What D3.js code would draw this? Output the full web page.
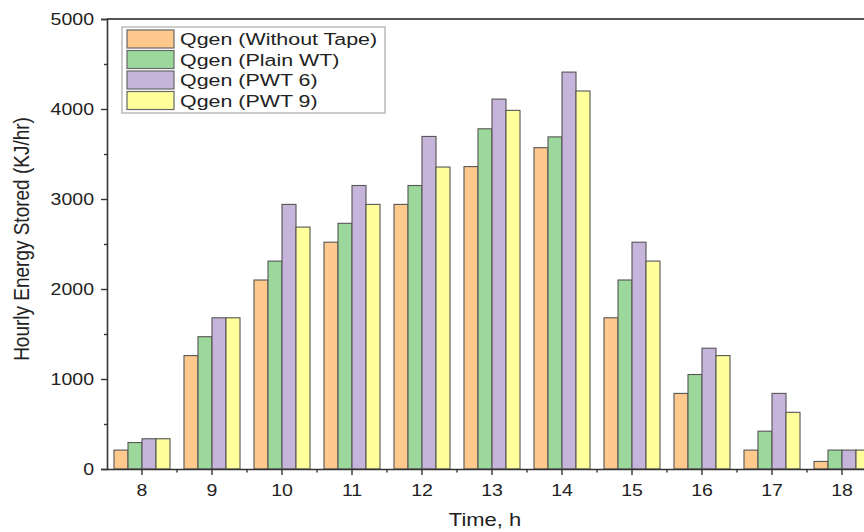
<!DOCTYPE html>
<html>
<head>
<meta charset="utf-8">
<script src="https://cdn.jsdelivr.net/npm/d3@7/dist/d3.min.js"></script>
<style>
  html, body { margin: 0; padding: 0; background: #fff; }
  svg { display: block; }
  text { font-family: "Liberation Sans", Arial, sans-serif; fill: #222; }
</style>
</head>
<body>
<svg id="chart" width="864" height="532"></svg>
<script>
const categories = ["8", "9", "10", "11", "12", "13", "14", "15", "16", "17", "18"];
const seriesNames = ["Qgen (Without Tape)", "Qgen (Plain WT)", "Qgen (PWT 6)", "Qgen (PWT 9)"];
const withoutTape = [210, 1260, 2100, 2520, 2940, 3360, 3570, 1680, 840, 210, 84];
const plainWT     = [294, 1470, 2310, 2730, 3150, 3780, 3690, 2100, 1050, 420, 210];
const pwt6        = [336, 1680, 2940, 3150, 3695, 4110, 4410, 2520, 1342, 840, 210];
const pwt9        = [336, 1680, 2688, 2940, 3355, 3985, 4200, 2310, 1260, 630, 210];
const yTicks = [0, 1000, 2000, 3000, 4000, 5000];
const yMinorTicks = [500, 1500, 2500, 3500, 4500];
const colors = ["#FFC98E", "#9CD89C", "#C6B4DA", "#FFFF9C"];

(function () {
const values = [withoutTape, plainWT, pwt6, pwt9];
const svg = d3.select("#chart");
const W = 864, H = 532;
const pL = 107, pR = 877, pT = 19, pB = 469;
const SX = 1.22; // horizontal stretch of the reference's text

svg.append("rect").attr("width", W).attr("height", H).attr("fill", "#fff");

const x0 = d3.scaleBand().domain(categories).range([pL, pR]).paddingInner(0).paddingOuter(0);
const x1 = d3.scaleBand().domain(seriesNames).range([0, x0.bandwidth()]).paddingInner(0).paddingOuter(0.5);
const y = d3.scaleLinear().domain([0, 5000]).range([pB, pT]);

// bars
const g = svg.append("g");
categories.forEach((c, i) => {
  seriesNames.forEach((s, j) => {
    const v = values[j][i];
    g.append("rect")
      .attr("x", x0(c) + x1(s))
      .attr("y", y(v))
      .attr("width", x1.bandwidth())
      .attr("height", y(0) - y(v))
      .attr("fill", colors[j])
      .attr("stroke", "#555")
      .attr("stroke-width", 1.1);
  });
});

// top frame line
svg.append("line").attr("x1", pL).attr("x2", W).attr("y1", pT).attr("y2", pT)
  .attr("stroke", "#555").attr("stroke-width", 2);

// y axis
const yAxis = d3.axisLeft(y).tickValues(yTicks).tickSize(6).tickPadding(7).tickFormat(d3.format("d"));
const yg = svg.append("g").attr("transform", `translate(${pL},0)`).call(yAxis);
yg.select(".domain").attr("stroke", "#333").attr("stroke-width", 1.6);
yg.selectAll(".tick line").attr("stroke", "#333").attr("stroke-width", 1.4);
yg.selectAll(".tick text").attr("font-size", 16).attr("fill", "#222")
  .attr("font-family", "Liberation Sans, Arial, sans-serif")
  .each(function() {
    const t = d3.select(this);
    const xx = +t.attr("x");
    t.attr("x", null).attr("transform", `translate(${xx},0) scale(${SX},1)`);
  });
const ygm = svg.append("g").attr("transform", `translate(${pL},0)`)
  .call(d3.axisLeft(y).tickValues(yMinorTicks).tickSize(3).tickFormat(""));
ygm.select(".domain").remove();
ygm.selectAll(".tick line").attr("stroke", "#333").attr("stroke-width", 1.4);

// x axis
const xAxis = d3.axisBottom(x0).tickSize(6).tickPadding(10);
const xg = svg.append("g").attr("transform", `translate(0,${pB})`).call(xAxis);
xg.select(".domain").attr("d", `M${pL},0.5H${W}`).attr("stroke", "#333").attr("stroke-width", 1.6);
xg.selectAll(".tick line").attr("stroke", "#333").attr("stroke-width", 1.4);
xg.selectAll(".tick text").attr("font-size", 16).attr("fill", "#222")
  .attr("font-family", "Liberation Sans, Arial, sans-serif")
  .each(function() {
    const t = d3.select(this);
    const yy = +t.attr("y");
    t.attr("y", null).attr("transform", `translate(0,${yy}) scale(${SX},1)`);
  });
// minor x ticks at band boundaries
const boundaries = categories.slice(1).map(c => x0(c));
svg.append("g").selectAll("line").data(boundaries).join("line")
  .attr("x1", d => d).attr("x2", d => d)
  .attr("y1", pB).attr("y2", pB + 3.5)
  .attr("stroke", "#333").attr("stroke-width", 1.4);

// axis titles
svg.append("text")
  .attr("transform", `translate(485,526) scale(${SX},1)`)
  .attr("text-anchor", "middle").attr("font-size", 18)
  .text("Time, h");
svg.append("text")
  .attr("transform", `translate(29,239) scale(1.12,1) rotate(-90)`)
  .attr("text-anchor", "middle").attr("font-size", 19)
  .text("Hourly Energy Stored (KJ/hr)");

// legend
const lg = svg.append("g");
lg.append("rect").attr("x", 122).attr("y", 27).attr("width", 263).attr("height", 86)
  .attr("fill", "#fff").attr("stroke", "#aaa").attr("stroke-width", 1.2);
seriesNames.forEach((s, j) => {
  const yy = 30 + j * 20.5;
  lg.append("rect").attr("x", 127).attr("y", yy).attr("width", 47).attr("height", 18)
    .attr("fill", colors[j]).attr("stroke", "#666").attr("stroke-width", 1.2);
  lg.append("text")
    .attr("transform", `translate(180,${yy + 15}) scale(1.26,1)`)
    .attr("font-size", 17)
    .text(s);
});
})();
</script>
</body>
</html>
